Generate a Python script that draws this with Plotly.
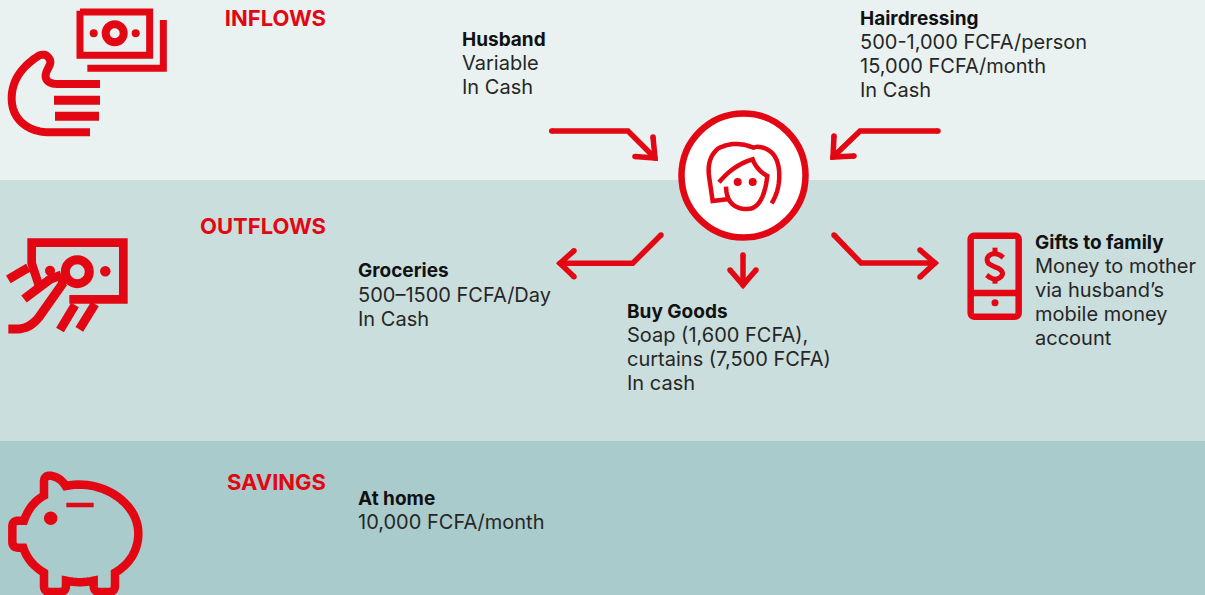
import plotly.graph_objects as go

W, H = 1205, 595
RED = "#E30613"
INK = "#262626"
FONT = "Inter"

band_names = ["inflows", "outflows", "savings"]
band_tops = [0, 180, 441]
band_bottoms = [180, 441, 595]
band_colors = ["#E9F2F1", "#CADEDD", "#A9CBCB"]

heading_texts = ["INFLOWS", "OUTFLOWS", "SAVINGS"]
heading_x = [326, 326, 326]
heading_y = [20, 228, 484]

title_texts = ["Husband", "Hairdressing", "Groceries", "Buy Goods", "Gifts to family", "At home"]
title_x = [462, 860, 358, 627, 1035, 358]
title_y = [41, 20, 272, 313, 244, 500]

detail_texts = [
    "Variable", "In Cash",
    "500-1,000 FCFA/person", "15,000 FCFA/month", "In Cash",
    "500–1500 FCFA/Day", "In Cash",
    "Soap (1,600 FCFA),", "curtains (7,500 FCFA)", "In cash",
    "Money to mother", "via husband’s", "mobile money", "account",
    "10,000 FCFA/month",
]
detail_x = [462, 462,
            860, 860, 860,
            358, 358,
            627, 627, 627,
            1035, 1035, 1035, 1035,
            358]
detail_y = [65, 89,
            44, 68, 92,
            297, 321,
            337, 361, 385,
            268, 292, 316, 340,
            524]


def sample(path):
    """Path of (x,y) line-to, (cx,cy,x,y) quadratic and (c1x,c1y,c2x,c2y,x,y) cubic steps."""
    pts = [path[0]]
    for seg in path[1:]:
        p0 = pts[-1]
        if len(seg) == 2:
            pts.append(seg)
        elif len(seg) == 4:
            for i in range(1, 17):
                t = i / 16
                a, b, c = (1 - t) ** 2, 2 * t * (1 - t), t ** 2
                pts.append((a * p0[0] + b * seg[0] + c * seg[2], a * p0[1] + b * seg[1] + c * seg[3]))
        else:
            for i in range(1, 25):
                t = i / 24
                a, b, c, d = (1 - t) ** 3, 3 * t * (1 - t) ** 2, 3 * t * t * (1 - t), t ** 3
                pts.append((a * p0[0] + b * seg[0] + c * seg[2] + d * seg[4],
                            a * p0[1] + b * seg[1] + c * seg[3] + d * seg[5]))
    return pts


fig = go.Figure()


def stroke(xs, ys, width, color=RED, fill=None):
    fig.add_trace(go.Scatter(
        x=xs, y=ys, mode="lines", hoverinfo="skip", showlegend=False,
        fill=fill, fillcolor=color if fill else None,
        line=dict(color=color, width=width, simplify=False),
    ))


def dot(x, y, d, color=RED, lw=0, lc=RED):
    fig.add_trace(go.Scatter(
        x=[x], y=[y], mode="markers", hoverinfo="skip", showlegend=False,
        marker=dict(size=d, color=color, line=dict(width=lw, color=lc)),
    ))


def draw(path, ox, oy, width):
    pts = sample(path)
    stroke([ox + p[0] / 3 for p in pts], [oy + p[1] / 3 for p in pts], width)


# Bands
for top, bottom, col in zip(band_tops, band_bottoms, band_colors):
    stroke([0, W, W, 0, 0], [top, top, bottom, bottom, top], 0, color=col, fill="toself")

# Inflows icon: banknotes
draw([(240, 36), (449, 36), (449, 166), (240, 166), (240, 32)], 0, 0, 7)
draw([(262, 205), (490, 205), (490, 60)], 0, 0, 7)
dot(114.7, 33.3, 18, color="rgba(0,0,0,0)", lw=8)
dot(93.7, 33.3, 8)
dot(135.7, 33.3, 8)
# Inflows icon: hand
draw([(300, 252), (170, 252), (135, 250, 137, 225), (140, 205, 155, 195, 150, 180), (140, 158, 118, 166),
      (80, 190, 35, 230, 35, 295), (35, 360, 85, 397, 150, 397), (270, 397)], 0, 0, 8)
draw([(162, 301), (300, 301)], 0, 0, 9)
draw([(165, 349), (297, 349)], 0, 0, 9)

# Outflows icon
draw([(118, 170), (95, 100), (95, 38), (370, 38), (370, 208), (208, 208)], 0, 230, 8.7)
dot(77.3, 271.7, 24, color="rgba(0,0,0,0)", lw=9)
dot(105.3, 271.3, 10.5)
dot(50, 270.7, 10)
draw([(25, 148), (85, 113)], 0, 230, 9)
draw([(72, 207), (150, 148), (184, 135)], 0, 230, 9)
dot(62.5, 282, 9)
draw([(190, 158), (125, 250), (95, 297, 50, 297), (25, 297)], 0, 230, 9)
draw([(180, 300), (225, 225)], 0, 230, 9)
draw([(238, 298), (285, 222)], 0, 230, 9)

# Savings icon: piggy bank
draw([(132, 92), (132, 50), (132, 32, 150, 32), (180, 35, 197, 63), (300, 40, 415, 110, 415, 205),
      (415, 260, 385, 300, 345, 323), (345, 362), (345, 381, 325, 381), (300, 381), (281, 381, 281, 362),
      (281, 347), (240, 356, 198, 347), (198, 362), (198, 381, 178, 381), (150, 381), (132, 381, 132, 362),
      (132, 323), (85, 295, 70, 248), (55, 248), (37, 248, 37, 230), (37, 185), (37, 167, 55, 167), (72, 167),
      (90, 115, 132, 92), (132, 80)], 0, 465, 8.5)
dot(50.7, 518.3, 13.5)
draw([(199, 120), (281, 120)], 0, 465, 4.5)

# Central woman icon
dot(743.5, 175.5, 124, color="#FFFFFF", lw=6.5)
draw([(305, 295), (332, 250, 327, 195), (320, 130, 262, 125), (250, 128), (195, 105, 145, 130),
      (108, 160, 118, 220), (128, 288), (178, 282)], 670, 105, 4.5)
draw([(147, 232), (190, 180, 248, 163), (260, 195, 292, 213), (280, 312, 232, 312), (170, 312, 168, 245)], 670, 105, 4.5)
dot(737.7, 182, 8)
dot(752.7, 182, 8)

# Phone icon
draw([(60, 32), (178, 32), (191, 32, 191, 45), (191, 262), (191, 275, 178, 275), (60, 275), (47, 275, 47, 262),
      (47, 45), (47, 32, 60, 32)], 955, 225, 6.5)
draw([(47, 204), (191, 204)], 955, 225, 6.5)
dot(995, 302.7, 7)
draw([(145, 98), (128, 82, 108, 88), (90, 98, 100, 115), (110, 122, 130, 130), (150, 142, 138, 155), (120, 172, 95, 150)], 955, 225, 5)
draw([(120, 68), (120, 86)], 955, 225, 5)
draw([(120, 160), (120, 176)], 955, 225, 5)

# Arrows
arrows = [
    ([551.7, 628, 655], [131, 131, 158], [653, 655, 635], [137, 158, 156.5]),
    ([938, 860, 833], [131, 131, 157], [834, 833, 854], [136, 157, 156]),
    ([661, 632.7, 560], [235, 263.3, 263.3], [574, 560, 574], [250.7, 263.3, 276.7]),
    ([743, 743], [255, 285], [730, 743, 756], [270, 285, 270]),
    ([834, 861, 935], [235, 263, 263], [920, 935, 920], [250, 263, 277]),
]
for sx, sy, hx, hy in arrows:
    stroke(sx, sy, 5.5)
    stroke(hx, hy, 5.5)
    for ex, ey in [(sx[0], sy[0]), (sx[-1], sy[-1]), (hx[0], hy[0]), (hx[-1], hy[-1])]:
        dot(ex, ey, 5.5)

# Text
fig.add_trace(go.Scatter(
    x=heading_x, y=heading_y, text=[f"<b>{t}</b>" for t in heading_texts], mode="text",
    textposition="middle left", hoverinfo="skip", showlegend=False,
    textfont=dict(family=FONT, size=22, color=RED),
))
fig.add_trace(go.Scatter(
    x=title_x, y=title_y, text=[f"<b>{t}</b>" for t in title_texts], mode="text",
    textposition="middle right", hoverinfo="skip", showlegend=False,
    textfont=dict(family=FONT, size=19, color="#111111"),
))
fig.add_trace(go.Scatter(
    x=detail_x, y=detail_y, text=detail_texts, mode="text",
    textposition="middle right", hoverinfo="skip", showlegend=False,
    textfont=dict(family=FONT, size=20, color=INK),
))

fig.update_layout(
    width=W, height=H, margin=dict(l=0, r=0, t=0, b=0),
    paper_bgcolor=band_colors[0], plot_bgcolor=band_colors[0],
    xaxis=dict(range=[0, W], visible=False, fixedrange=True),
    yaxis=dict(range=[H, 0], visible=False, fixedrange=True),
    showlegend=False,
)
fig.write_html("out.html", config=dict(displayModeBar=False),
               post_script="document.body.style.margin='0';document.documentElement.style.overflow='hidden';")
